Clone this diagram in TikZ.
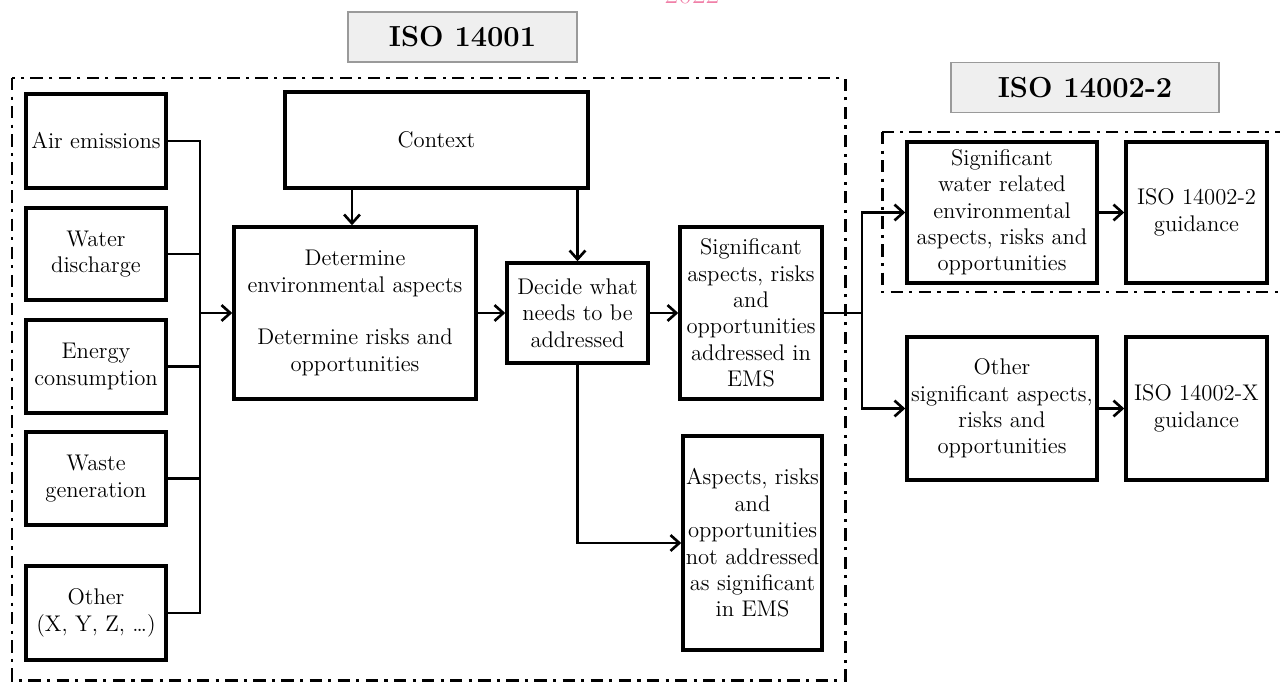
\documentclass[tikz,border=0pt]{standalone}
\usepackage{tikz}
\usetikzlibrary{calc, arrows.meta}

\definecolor{titlegray}{HTML}{EFEFEF}
\definecolor{titleline}{HTML}{9A9A9A}
\definecolor{yearpink}{HTML}{F080A8}

\begin{document}
\begin{tikzpicture}[x=0.02cm, y=-0.02cm,
    box/.style={draw, line width=2pt, align=center, inner sep=1pt,
        font=\fontsize{12.9}{15}\selectfont},
    title/.style={draw=titleline, fill=titlegray, line width=1pt,
        minimum width=#1, minimum height=1cm,
        font=\fontsize{16.5}{20}\selectfont\bfseries},
    link/.style={line width=1.5pt},
    arr/.style={line width=1.5pt, -{Straight Barb[length=5pt, width=9pt, line width=1.5pt]}},
    frame/.style={line width=1.7pt, dash pattern=on 7pt off 3.6pt on 1.8pt off 3.6pt}]
    \useasboundingbox (0,0) rectangle (1280,682);

    \node[yearpink, anchor=base, font=\fontsize{17}{20}\selectfont] (year) at (692,4) {2022};

    \node[title=4.58cm] (isoA) at (462.5,37) {ISO 14001};
    \node[title=5.36cm] (isoB) at (1085,87.5) {ISO 14002-2};

    \draw[frame] (12,78) rectangle (845,680);
    \draw[frame] (882,132) rectangle (1290,292);

    \node[box, minimum width=2.8cm, minimum height=1.88cm] (air) at (96,141) {Air emissions};
    \node[box, minimum width=2.8cm, minimum height=1.84cm] (water) at (96,254) {Water\\discharge};
    \node[box, minimum width=2.8cm, minimum height=1.86cm] (energy) at (96,366.5) {Energy\\consumption};
    \node[box, minimum width=2.8cm, minimum height=1.86cm] (waste) at (96,478.5) {Waste\\generation};
    \node[box, minimum width=2.8cm, minimum height=1.88cm] (other) at (96,613) {Other\\(X, Y, Z, \dots)};

    \node[box, minimum width=6.06cm, minimum height=1.92cm] (context) at (436.5,140) {Context};
    \node[box, minimum width=4.84cm, minimum height=3.44cm] (determine) at (355,313)
        {Determine\\environmental aspects\\[15pt]Determine risks and\\opportunities};
    \node[box, minimum width=2.82cm, minimum height=2cm] (decide) at (577.5,313)
        {Decide what\\needs to be\\addressed};
    \node[box, minimum width=2.84cm, minimum height=3.44cm] (sigems) at (751,313)
        {Significant\\aspects, risks\\and\\opportunities\\addressed in\\EMS};
    \node[box, minimum width=2.78cm, minimum height=4.28cm] (notsig) at (752.5,543)
        {Aspects, risks\\and\\opportunities\\not addressed\\as significant\\in EMS};

    \node[box, minimum width=3.8cm, minimum height=2.82cm] (sigwater) at (1002,212.5)
        {Significant\\water related\\environmental\\aspects, risks and\\opportunities};
    \node[box, minimum width=2.82cm, minimum height=2.82cm] (guideB) at (1196.5,212.5)
        {ISO 14002-2\\guidance};
    \node[box, minimum width=3.8cm, minimum height=2.86cm] (othersig) at (1002,408.5)
        {Other\\significant aspects,\\risks and\\opportunities};
    \node[box, minimum width=2.82cm, minimum height=2.86cm] (guideX) at (1196.5,408.5)
        {ISO 14002-X\\guidance};

    \coordinate (bus) at (200,313);
    \coordinate (split) at (862,313);

    \foreach \src in {air, water, energy, waste, other}
        \draw[link] (\src.east) -| (bus);
    \draw[arr] (bus) -- (determine.west);

    \draw[arr] ($(context.south -| determine.north)+(-3,0)$) -- ($(determine.north)+(-3,0)$);
    \draw[arr] (context.south -| decide.north) -- (decide.north);
    \draw[arr] (determine.east) -- (decide.west);
    \draw[arr] (decide.east) -- (sigems.west);
    \draw[arr] (decide.south) |- (notsig.west);

    \draw[link] (sigems.east) -- (split);
    \draw[arr] (split) |- (sigwater.west);
    \draw[arr] (split) |- (othersig.west);
    \draw[arr] (sigwater.east) -- (guideB.west);
    \draw[arr] (othersig.east) -- (guideX.west);
\end{tikzpicture}
\end{document}
